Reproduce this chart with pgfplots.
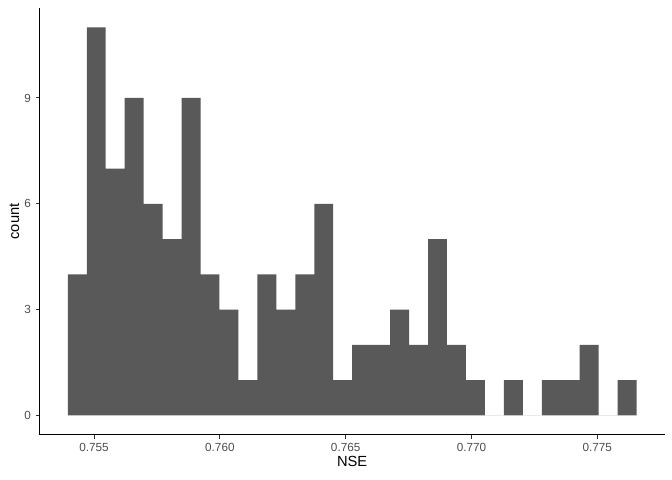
\documentclass[border=0pt]{standalone}
\usepackage{pgfplots}
\pgfplotsset{compat=1.18}
\usepackage{fontspec}
\setmainfont{Liberation Sans}
\definecolor{barfill}{HTML}{595959}
\definecolor{ticktext}{HTML}{4D4D4D}
\definecolor{tickline}{HTML}{333333}

\begin{document}
\begin{tikzpicture}
\begin{axis}[
    scale only axis,
    width=469pt, height=320pt,
    xmin=0.752825, xmax=0.777692,
    ymin=-0.55, ymax=11.55,
    axis lines*=left,
    axis line style={black, line width=0.75pt, -},
    xtick={0.755,0.760,0.765,0.770,0.775},
    xticklabels={0.755,0.760,0.765,0.770,0.775},
    ytick={0,3,6,9},
    tick align=outside,
    major tick length=2.75pt,
    tick style={tickline, line width=0.75pt},
    ticklabel style={font=\fontsize{8.8}{10}\selectfont, text=ticktext},
    /pgf/number format/assume math mode=true,
    xlabel={NSE}, ylabel={count},
    label style={font=\fontsize{11}{13}\selectfont},
    xlabel style={yshift=3pt},
    ylabel style={yshift=-3pt},
    clip=false,
]
\addplot[ybar interval, fill=barfill, draw=none] table {
x count
0.753955 4
0.754709 11
0.755462 7
0.756216 9
0.756969 6
0.757723 5
0.758477 9
0.759230 4
0.759984 3
0.760737 1
0.761491 4
0.762245 3
0.762998 4
0.763752 6
0.764505 1
0.765259 2
0.766013 2
0.766766 3
0.767520 2
0.768273 5
0.769027 2
0.769781 1
0.770534 0
0.771288 1
0.772041 0
0.772795 1
0.773549 1
0.774302 2
0.775056 0
0.775809 1
0.776563 1
};
\end{axis}
\pgfresetboundingbox
\path[use as bounding box] ([shift={(-29.5pt,-33.75pt)}]current axis.south west) rectangle ([shift={(5.25pt,6pt)}]current axis.north east);
\end{tikzpicture}
\end{document}
